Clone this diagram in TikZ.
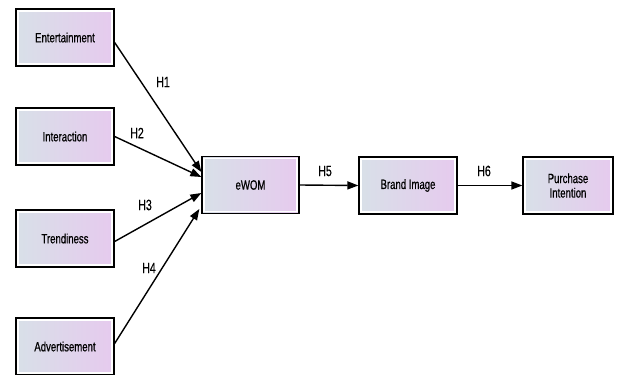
\documentclass[tikz,border=0pt]{standalone}
\usepackage{fontspec}
\setmainfont{Liberation Sans}[FakeStretch=0.71, FakeBold=0.6]
\newfontfamily\labelfont{Liberation Sans}[FakeStretch=0.71, FakeBold=0.3]
\usetikzlibrary{arrows.meta}
\definecolor{boxleft}{HTML}{D8E0E8}
\definecolor{boxright}{HTML}{E6CAEE}
\tikzset{
  varbox/.style={draw=black, line width=1.3pt, left color=boxleft, right color=boxright,
    minimum width=#1, minimum height=57pt, inner sep=0pt, align=center,
    font=\fontsize{13.5}{14.5}\selectfont,
    path picture={\draw[white, line width=1.2pt]
      ([shift={(2pt,-2pt)}]path picture bounding box.north west) rectangle
      ([shift={(-2pt,2pt)}]path picture bounding box.south east);}},
  varbox/.default=98pt,
  link/.style={line width=1.4pt, -{Triangle[length=11pt,width=8pt]}},
  hlabel/.style={font=\labelfont\fontsize{15}{16}\selectfont, inner sep=0pt}
}
\begin{document}
\begin{tikzpicture}[x=1pt,y=-1pt]
\useasboundingbox (0,0) rectangle (617,374);
\node[varbox] (ent) at (65,37.5) {Entertainment};
\node[varbox] (int) at (65,136.5) {Interaction};
\node[varbox] (tre) at (65,238.5) {Trendiness};
\node[varbox] (adv) at (65,346.5) {Advertisement};
\node[varbox=97pt] (ewom) at (250.5,185) {eWOM};
\node[varbox] (brand) at (408,185.5) {Brand Image};
\node[varbox=90pt] (pi) at (568,185.5) {Purchase\\Intention};

\draw[link] ([yshift=-5pt]ent.east) -- ([yshift=13pt]ewom.west);
\draw[link] (int.east) -- ([yshift=8pt]ewom.west);
\draw[link] ([yshift=-3pt]tre.east) -- ([yshift=-8pt]ewom.west);
\draw[link] ([yshift=3pt]adv.east) -- ([xshift=-2pt,yshift=-24pt]ewom.west);
\draw[link] (ewom.east) -- (brand.west);
\draw[link] (brand.east) -- (pi.west);

\node[hlabel] (h1) at (163,82) {H1};
\node[hlabel] (h2) at (137,133) {H2};
\node[hlabel] (h3) at (145,205) {H3};
\node[hlabel] (h4) at (149,268) {H4};
\node[hlabel] (h5) at (325,171) {H5};
\node[hlabel] (h6) at (484,171) {H6};
\end{tikzpicture}
\end{document}
